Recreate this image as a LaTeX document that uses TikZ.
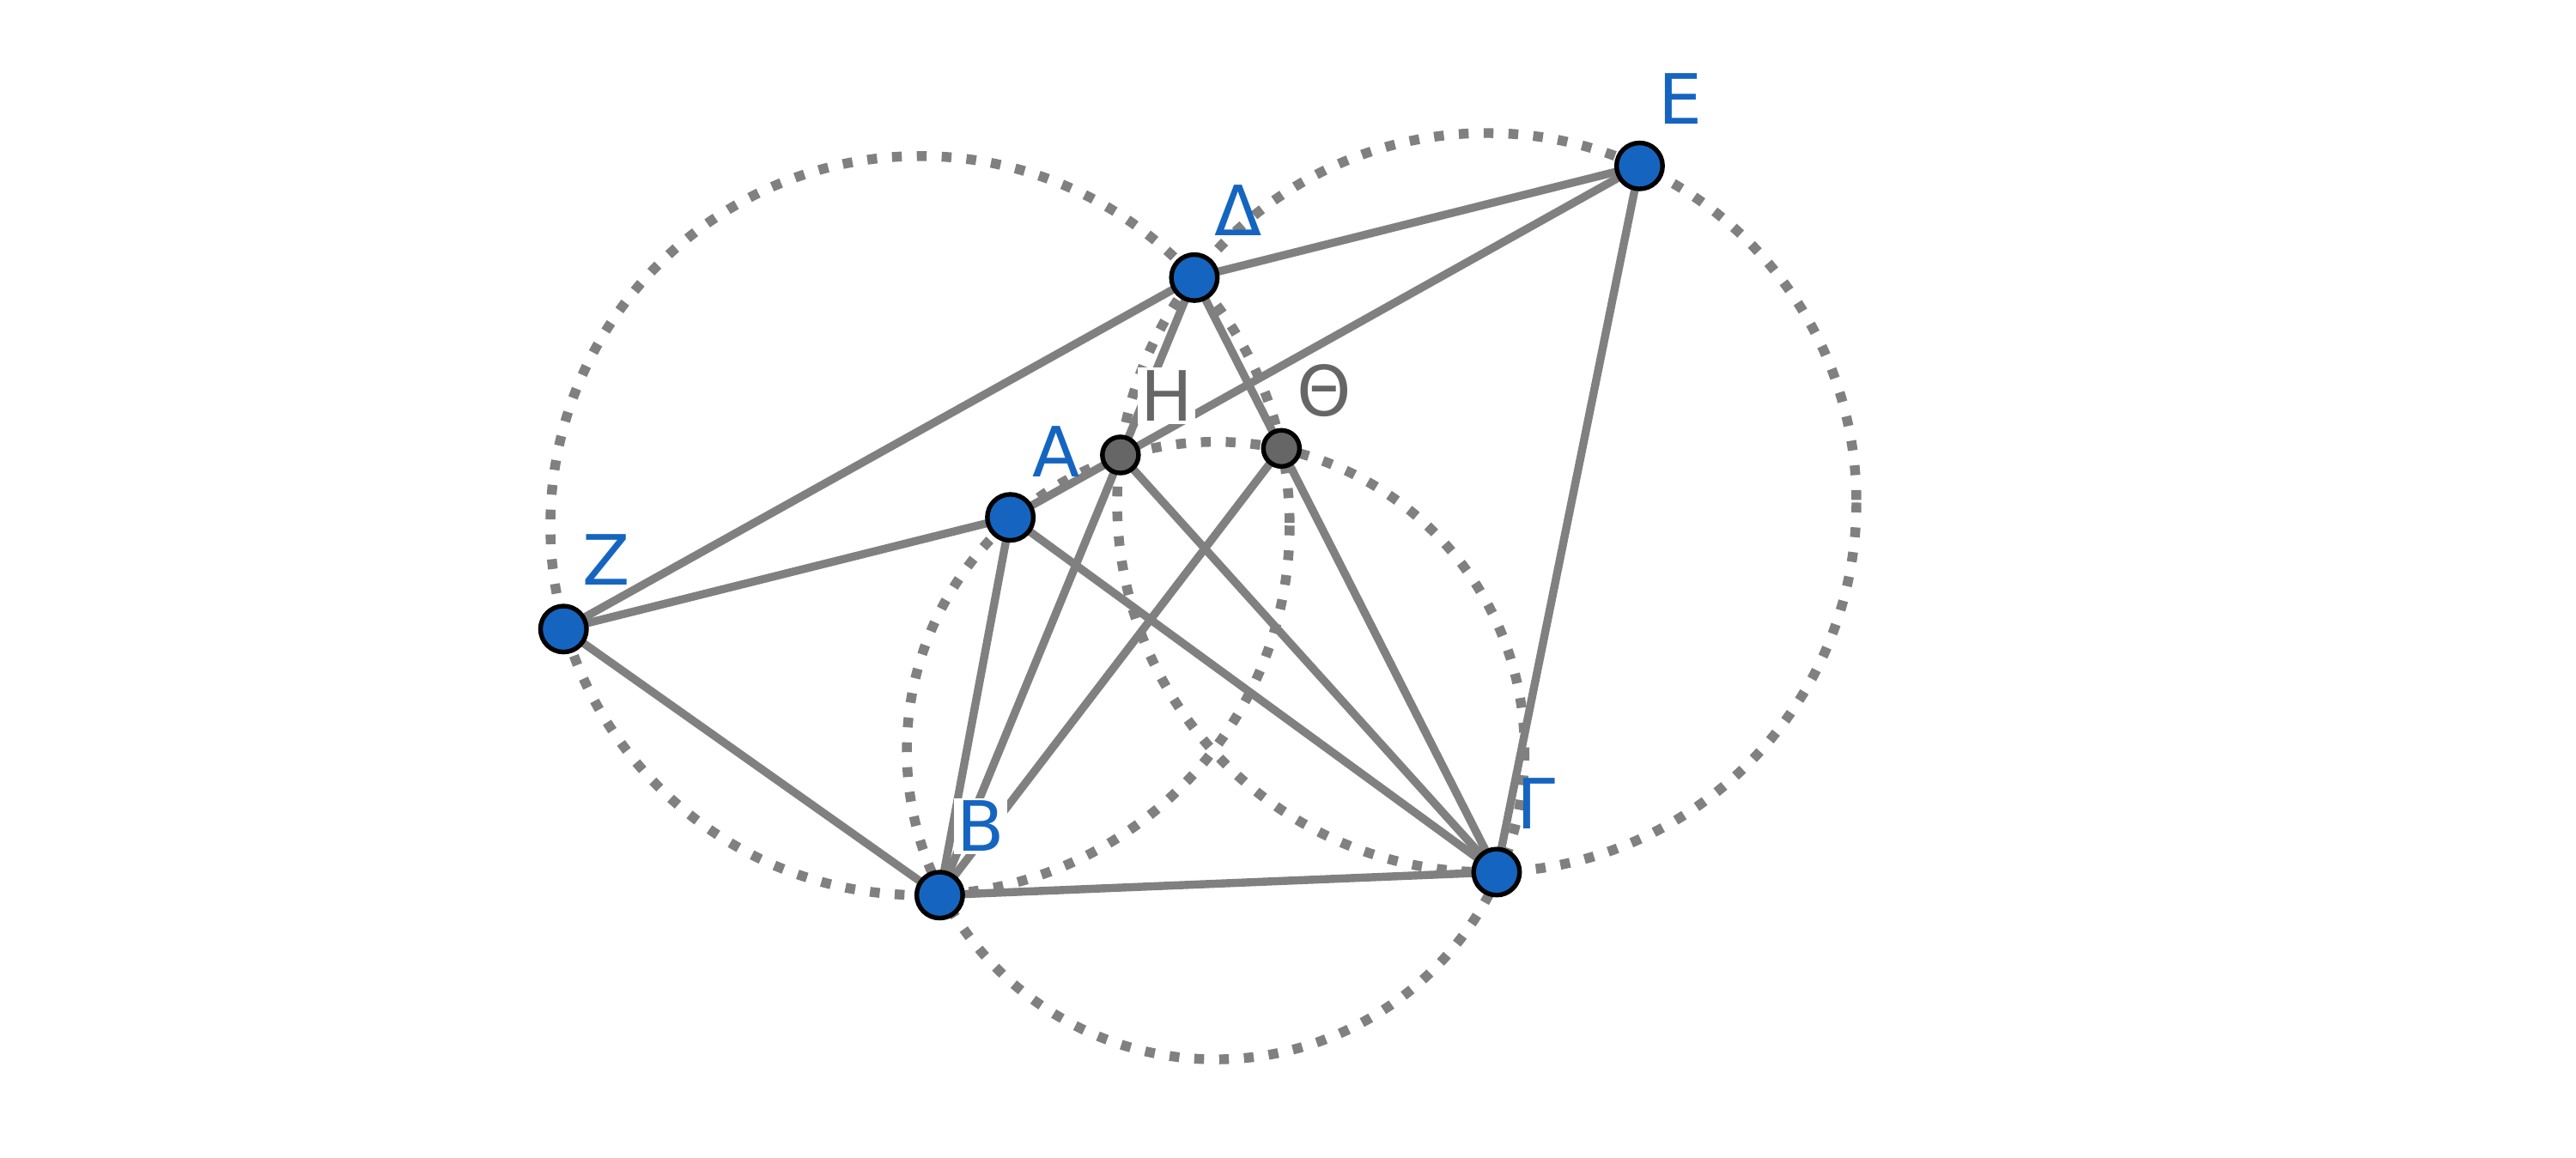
\documentclass[tikz,border=0pt]{standalone}
\usepackage{fontspec}
\setmainfont{DejaVu Sans}
\usetikzlibrary{positioning}
\definecolor{ptblue}{HTML}{1565C0}
\definecolor{seggray}{HTML}{808080}

\begin{document}
\begin{tikzpicture}[
    x=0.01cm, y=-0.01cm,
    font=\fontsize{12}{14}\selectfont,
    seg/.style={draw=seggray, line width=1.4pt},
    circ/.style={draw=seggray, line width=1.7pt, dash pattern=on 1.7pt off 2.6pt},
    bluept/.style={circle, draw=black, fill=ptblue, line width=0.8pt, inner sep=0pt, minimum size=0.28cm},
    graypt/.style={circle, draw=black, fill=black!60, line width=0.8pt, inner sep=0pt, minimum size=0.22cm},
    lbl/.style={inner sep=0.5pt, text=ptblue},
    glbl/.style={inner sep=0.5pt, text=black!60}
  ]
  \useasboundingbox (0,0) rectangle (1568,705);

  % circles
  \draw[circ] (560,320) circle (225);
  \draw[circ] (905,306) circle (225);
  \draw[circ] (740,457) circle (188);

  % points
  \coordinate (e) at (998,101);
  \coordinate (d) at (727,169);
  \coordinate (h) at (682,277);
  \coordinate (t) at (780,273);
  \coordinate (a) at (615,315);
  \coordinate (z) at (343,383);
  \coordinate (b) at (572,545);
  \coordinate (g) at (911,531);

  % segments
  \draw[seg] (d) -- (e);
  \draw[seg] (d) -- (z);
  \draw[seg] (z) -- (a);
  \draw[seg] (z) -- (b);
  \draw[seg] (a) -- (e);
  \draw[seg] (d) -- (b);
  \draw[seg] (d) -- (g);
  \draw[seg] (e) -- (g);
  \draw[seg] (b) -- (g);
  \draw[seg] (a) -- (b);
  \draw[seg] (a) -- (g);
  \draw[seg] (h) -- (g);
  \draw[seg] (t) -- (b);

  % labels
  \node[lbl] (le) at (1023,60) {E};
  \node[lbl] (ld) at (754,128) {Δ};
  \node[glbl, fill=white] (lh) at (710,241) {H};
  \node[glbl] (lt) at (806,238) {Θ};
  \node[lbl] (la) at (643,275) {A};
  \node[lbl] (lz) at (369,341) {Z};
  \node[lbl, fill=white] (lb) at (597,503) {B};
  \node[lbl] (lg) at (935,489) {Γ};

  % point marks
  \foreach \p in {e,d,a,z,b,g}
    \node[bluept] at (\p) {};
  \foreach \p in {h,t}
    \node[graypt] at (\p) {};
\end{tikzpicture}
\end{document}
